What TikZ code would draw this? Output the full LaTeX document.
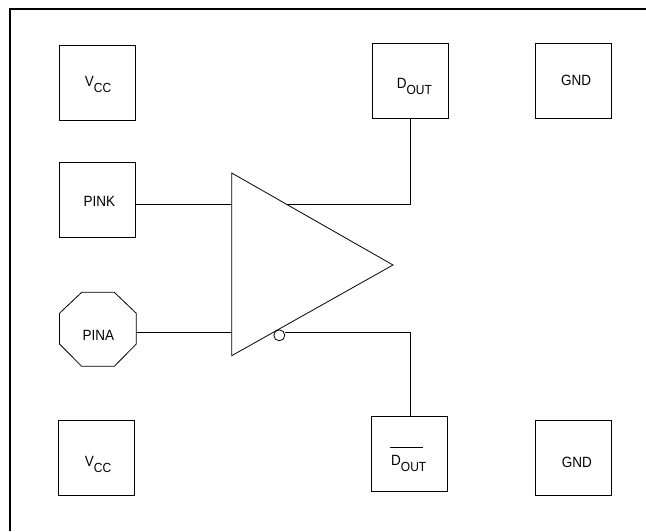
\documentclass[tikz,border=0pt]{standalone}
\usepackage{graphicx}
\usepackage{fontspec}
\setmainfont{Liberation Sans}
\tikzset{
  line/.style={draw=black,line width=0.8pt},
  pinbox/.style={line,minimum width=76pt,minimum height=75pt,inner sep=0pt,rectangle},
  pintext/.style={inner sep=0pt,anchor=base west,font=\fontsize{13.5}{15}\selectfont},
}
\newcommand{\sublabel}[1]{\raisebox{-5.8pt}{\fontsize{12}{14}\selectfont #1}}
\newcommand{\tl}[1]{\scalebox{1}[1.1]{#1}}
\begin{document}
\begin{tikzpicture}[x=1pt,y=-1pt]
\useasboundingbox (0,0) rectangle (646,531);
\fill[white] (0,0) rectangle (646,531);
\draw[line width=2pt] (9.8,531) -- (9.8,9) -- (646,9);
\node[pinbox] (vcc1) at (97.8,82.7) {};
\node[pinbox] (pink) at (97.8,200.3) {};
\node[pinbox] (vcc2) at (96.8,458) {};
\node[pinbox] (dout) at (410.2,81.2) {};
\node[pinbox] (gnd1) at (573.3,81.2) {};
\node[pinbox] (ndout) at (409,454) {};
\node[pinbox] (gnd2) at (573.3,458) {};
\node[pintext] (t1) at (84.7,86) {\tl{V\sublabel{CC}}};
\node[pintext] (t2) at (83.3,206.5) {\tl{PINK}};
\node[pintext] (t3) at (84.7,466.5) {\tl{V\sublabel{CC}}};
\node[pintext] (t4) at (396.7,88) {\tl{D\sublabel{OUT}}};
\node[pintext] (t5) at (561,85.5) {\tl{GND}};
\node[pintext] (t6) at (391,465) {\tl{D\sublabel{OUT}}};
\node[pintext] (t7) at (561.7,467) {\tl{GND}};
\draw[line] (390,447.3) -- (422.7,447.3);
\draw[line] (81.7,292.3) -- (114.3,292.3) -- (136.3,313.3) -- (136.3,344) -- (114.3,366.3) -- (81.7,366.3) -- (59.5,344) -- (59.5,313.3) -- cycle;
\node[pintext] (pina) at (82.3,340) {\tl{PINA}};
\coordinate (pinae) at (136.3,332);
\coordinate (amp1) at (231.7,173);
\coordinate (amp2) at (393,265);
\coordinate (amp3) at (231.7,355.7);
\coordinate (ampi) at (231.7,332);
\coordinate (ampk) at (231.7,204);
\coordinate (ampd) at (286.5,204);
\draw[line] (amp1) -- (amp2) -- (amp3) -- cycle;
\draw[line] (pink.east |- ampk) -- (ampk);
\draw[line] (pinae) -- (ampi);
\draw[line] (ampd) -- (dout.south |- ampd) -- (dout.south);
\node[draw,circle,line width=0.8pt,minimum size=11pt,inner sep=0pt] (bub) at (279.3,335.3) {};
\coordinate (bo) at (410,332.3);
\draw[line] (bub.east |- bo) -- (bo) -- (bo |- ndout.north);
\end{tikzpicture}
\end{document}
